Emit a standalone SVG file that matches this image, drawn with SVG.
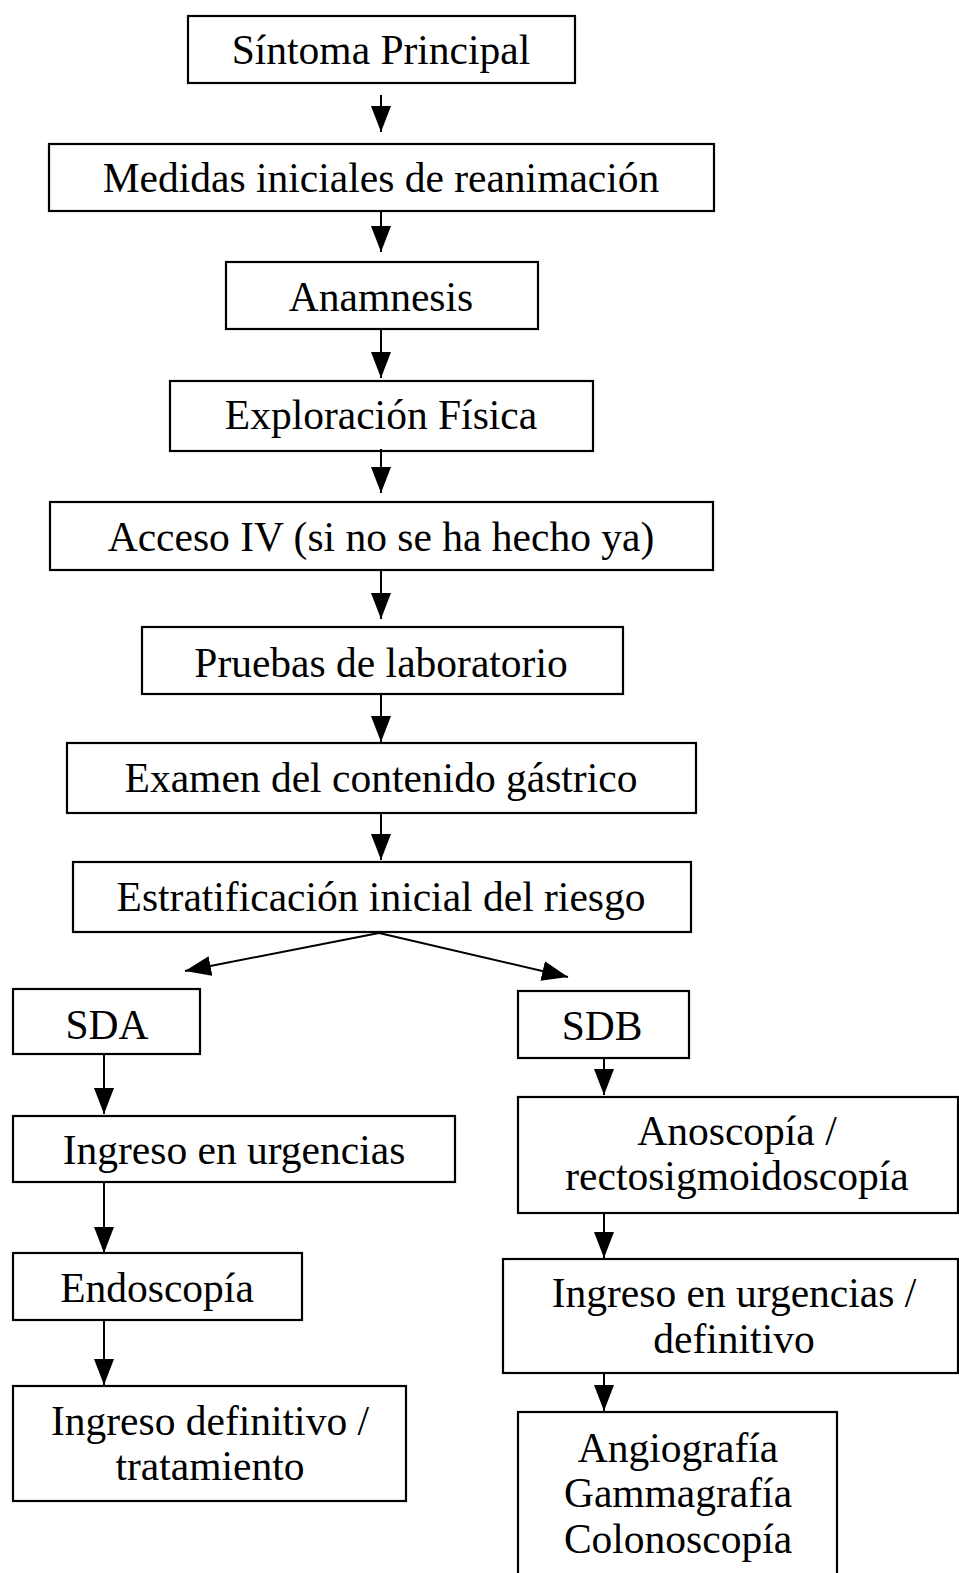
<svg xmlns="http://www.w3.org/2000/svg" width="959" height="1573" viewBox="0 0 959 1573">
<style>
rect{fill:#fff;stroke:#000;stroke-width:2.2}
text{font-family:"Liberation Serif","Times New Roman",serif;font-size:41.5px;fill:#000;text-anchor:middle}
.c line{stroke:#000;stroke-width:2}
</style>
<defs>
<marker id="ah" markerUnits="userSpaceOnUse" markerWidth="26" markerHeight="20" refX="26" refY="10" viewBox="0 0 26 20" orient="auto">
<polygon points="0,0 26,10 0,20" fill="#000"/>
</marker>
</defs>
<rect x="0" y="0" width="959" height="1573" style="stroke:none"/>
<g id="n1"><rect x="188" y="16" width="387" height="67"/><text x="381" y="64">Síntoma Principal</text></g>
<g id="n2"><rect x="49" y="144" width="665" height="67"/><text x="381" y="192">Medidas iniciales de reanimación</text></g>
<g id="n3"><rect x="226" y="262" width="312" height="67"/><text x="381" y="311">Anamnesis</text></g>
<g id="n4"><rect x="170" y="381" width="423" height="70"/><text x="381" y="429">Exploración Física</text></g>
<g id="n5"><rect x="50" y="502" width="663" height="68"/><text x="381" y="551">Acceso IV (si no se ha hecho ya)</text></g>
<g id="n6"><rect x="142" y="627" width="481" height="67"/><text x="381" y="677">Pruebas de laboratorio</text></g>
<g id="n7"><rect x="67" y="743" width="629" height="70"/><text x="381" y="792">Examen del contenido gástrico</text></g>
<g id="n8"><rect x="73" y="862" width="618" height="70"/><text x="381" y="911">Estratificación inicial del riesgo</text></g>
<g id="sda"><rect x="13" y="989" width="187" height="65"/><text x="107" y="1039">SDA</text></g>
<g id="sdb"><rect x="518" y="991" width="171" height="67"/><text x="602" y="1040">SDB</text></g>
<g id="l1"><rect x="13" y="1116" width="442" height="66"/><text x="234" y="1164">Ingreso en urgencias</text></g>
<g id="l2"><rect x="13" y="1253" width="289" height="67"/><text x="157" y="1302">Endoscopía</text></g>
<g id="l3"><rect x="13" y="1386" width="393" height="115"/><text x="210" y="1435">Ingreso definitivo /</text><text x="210" y="1480">tratamiento</text></g>
<g id="r1"><rect x="518" y="1097" width="440" height="116"/><text x="737" y="1145">Anoscopía /</text><text x="737" y="1190">rectosigmoidoscopía</text></g>
<g id="r2"><rect x="503" y="1259" width="455" height="114"/><text x="734" y="1307">Ingreso en urgencias /</text><text x="734" y="1353">definitivo</text></g>
<g id="r3"><rect x="518" y="1412" width="319" height="170"/><text x="678" y="1462">Angiografía</text><text x="678" y="1507">Gammagrafía</text><text x="678" y="1553">Colonoscopía</text></g>
<g class="c" id="connectors">
<line x1="381" y1="95" x2="381" y2="132" marker-end="url(#ah)"/>
<line x1="381" y1="211" x2="381" y2="252" marker-end="url(#ah)"/>
<line x1="381" y1="330" x2="381" y2="378" marker-end="url(#ah)"/>
<line x1="381" y1="449" x2="381" y2="493" marker-end="url(#ah)"/>
<line x1="381" y1="571" x2="381" y2="619" marker-end="url(#ah)"/>
<line x1="381" y1="695" x2="381" y2="742" marker-end="url(#ah)"/>
<line x1="381" y1="814" x2="381" y2="860" marker-end="url(#ah)"/>
<line x1="379" y1="933" x2="185" y2="971" marker-end="url(#ah)"/>
<line x1="379" y1="933" x2="568" y2="977" marker-end="url(#ah)"/>
<line x1="104" y1="1055" x2="104" y2="1114" marker-end="url(#ah)"/>
<line x1="104" y1="1183" x2="104" y2="1253" marker-end="url(#ah)"/>
<line x1="104" y1="1321" x2="104" y2="1385" marker-end="url(#ah)"/>
<line x1="604" y1="1057" x2="604" y2="1095" marker-end="url(#ah)"/>
<line x1="604" y1="1212" x2="604" y2="1258" marker-end="url(#ah)"/>
<line x1="604" y1="1374" x2="604" y2="1411" marker-end="url(#ah)"/>
</g>
</svg>
